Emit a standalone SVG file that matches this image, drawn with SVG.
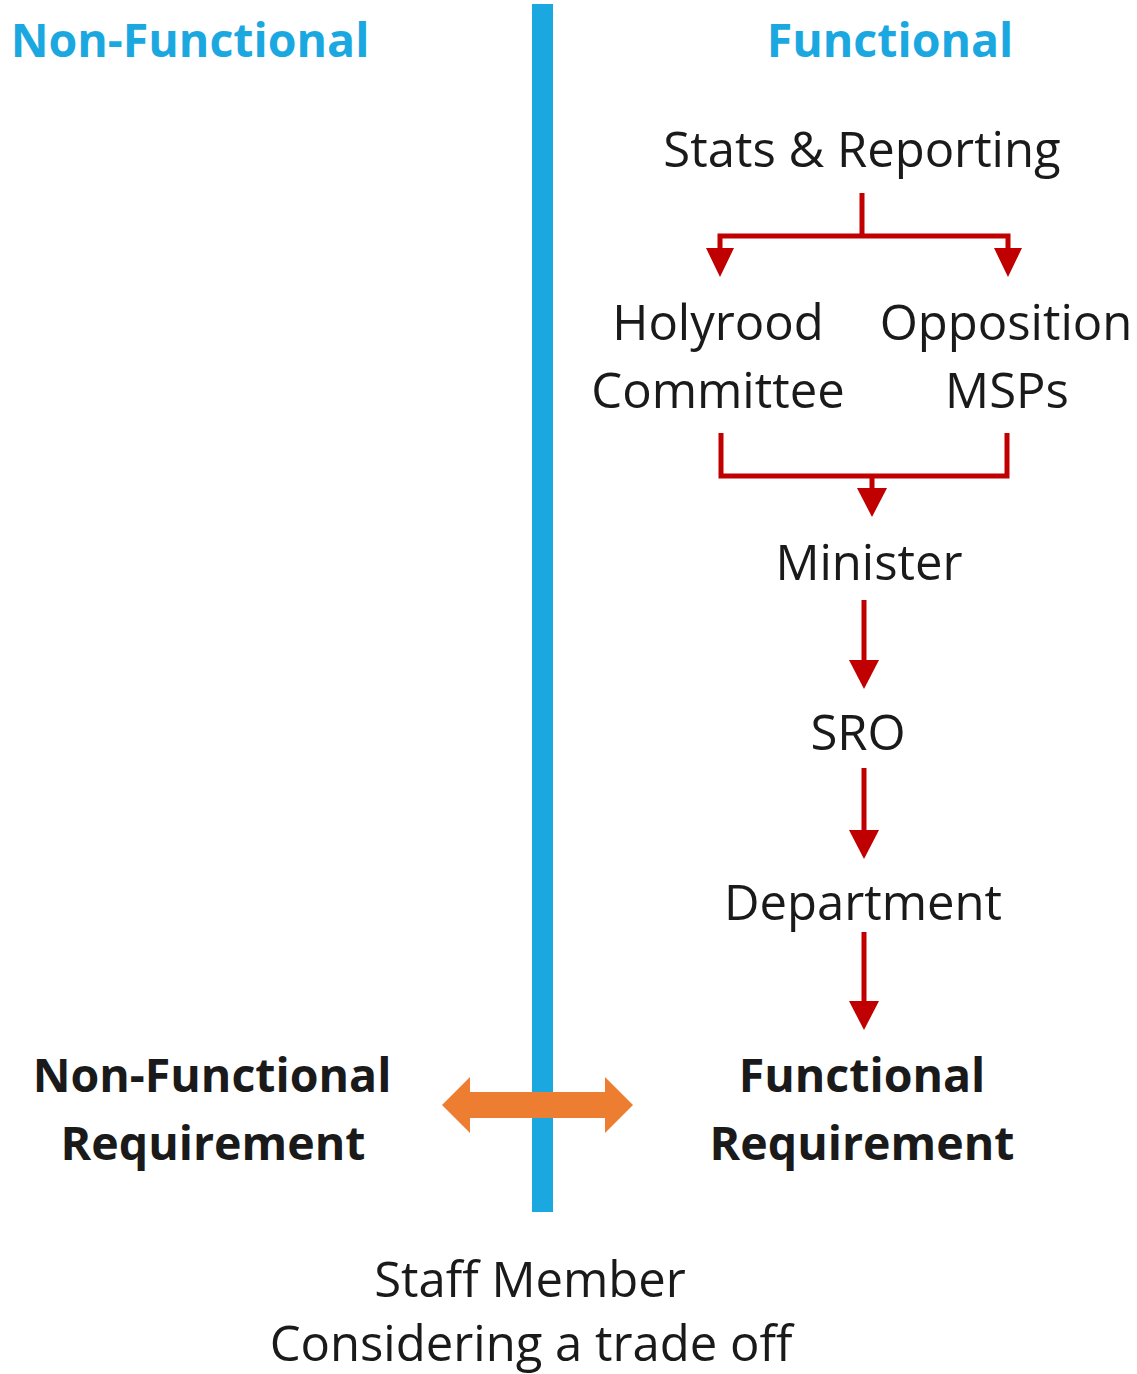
<svg xmlns="http://www.w3.org/2000/svg" width="1137" height="1374" viewBox="0 0 1137 1374">
<defs>
<style>
.t{font-family:"Open Sans","Liberation Sans",sans-serif;font-size:49px;fill:#1a1a1a;text-anchor:middle}
.b{font-weight:bold;font-size:46.5px}
.h{font-family:"Open Sans","Liberation Sans",sans-serif;font-size:46.5px;font-weight:bold;fill:#1ba8e0;text-anchor:middle}
.c{fill:none;stroke:#c00000;stroke-width:5}
.a{fill:#c00000}
</style>
</defs>
<rect width="1137" height="1374" fill="#fff"/>
<g id="divider"><rect x="532" y="4" width="21" height="1208" fill="#1ba8e0"/></g>
<g id="header-nonfunctional"><text class="h" x="190" y="57">Non-Functional</text></g>
<g id="header-functional"><text class="h" x="890" y="57">Functional</text></g>
<g id="stats"><text class="t" x="862" y="167">Stats &amp; Reporting</text></g>
<g id="holyrood"><text class="t" x="718" y="340">Holyrood</text><text class="t" x="718" y="408">Committee</text></g>
<g id="opposition"><text class="t" x="1006" y="340">Opposition</text><text class="t" x="1007" y="408">MSPs</text></g>
<g id="minister"><text class="t" x="869" y="580">Minister</text></g>
<g id="sro"><text class="t" x="858" y="750">SRO</text></g>
<g id="department"><text class="t" x="863" y="920">Department</text></g>
<g id="nfr"><text class="t b" x="212" y="1092">Non-Functional</text><text class="t b" x="213" y="1160">Requirement</text></g>
<g id="fr"><text class="t b" x="862" y="1092">Functional</text><text class="t b" x="862" y="1160">Requirement</text></g>
<g id="staff"><text class="t" x="530" y="1297">Staff Member</text><text class="t" x="531" y="1361">Considering a trade off</text></g>
<g id="connectors">
<path class="c" d="M862 193V236M720 250V236H1008V250"/>
<path class="a" d="M706 248H734L720 277Z M994 248H1022L1008 277Z"/>
<path class="c" d="M721 433V476H1007V433M872 476V490"/>
<path class="a" d="M857 488H887L872 517Z"/>
<path class="c" d="M864 600V662"/>
<path class="a" d="M849 660H879L864 689Z"/>
<path class="c" d="M864 768V832"/>
<path class="a" d="M849 830H879L864 859Z"/>
<path class="c" d="M864 932V1003"/>
<path class="a" d="M849 1001H879L864 1030Z"/>
<path fill="#ed7d31" d="M442 1105L470 1077V1092H605V1077L633 1105L605 1133V1118H470V1133Z"/>
</g>
</svg>
